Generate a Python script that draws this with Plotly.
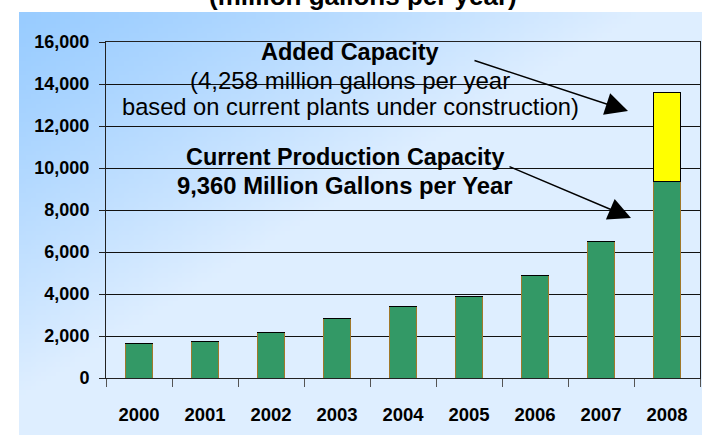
import base64, struct, zlib
import plotly.graph_objects as go

# ---- data ----
years = ["2000", "2001", "2002", "2003", "2004", "2005", "2006", "2007", "2008"]
current_capacity = [1640, 1750, 2160, 2810, 3410, 3900, 4870, 6490, 9360]
added_capacity = [0, 0, 0, 0, 0, 0, 0, 0, 4258]
y_ticks = [0, 2000, 4000, 6000, 8000, 10000, 12000, 14000, 16000]

# ---- background gradient image (built as PNG in memory) ----
def make_png(w, h, pixel):
    raw = b""
    for j in range(h):
        row = bytearray([0])
        for i in range(w):
            row.extend(pixel(i / (w - 1), j / (h - 1)))
        raw += bytes(row)
    def chunk(tag, data):
        c = struct.pack(">I", len(data)) + tag + data
        return c + struct.pack(">I", zlib.crc32(tag + data) & 0xffffffff)
    png = b"\x89PNG\r\n\x1a\n"
    png += chunk(b"IHDR", struct.pack(">IIBBBBB", w, h, 8, 2, 0, 0, 0))
    png += chunk(b"IDAT", zlib.compress(raw, 9))
    png += chunk(b"IEND", b"")
    return "data:image/png;base64," + base64.b64encode(png).decode()

c0 = (153, 204, 255)
c1 = (222, 238, 255)

def grad(u, v):
    t = min(1.0, (u * 1.1 + v * 1.1)) ** 1.2
    return [int(round(c0[k] + (c1[k] - c0[k]) * t)) for k in range(3)]

bg_src = make_png(140, 90, grad)

fig = go.Figure()
fig.add_trace(go.Bar(
    x=years, y=current_capacity, name="Current Production Capacity",
    marker=dict(color="#339966", line=dict(color="#A0782A", width=1)),
))
fig.add_trace(go.Bar(
    x=years, y=added_capacity, name="Added Capacity",
    marker=dict(color="#FFFF00", line=dict(color="#000000", width=1)),
))

fig.add_layout_image(dict(
    source=bg_src, xref="paper", yref="paper",
    x=-87 / 594, y=(378 - 12) / 336, sizex=(702 - 19) / 594, sizey=(435 - 12) / 336,
    xanchor="left", yanchor="top", sizing="stretch", layer="below",
))

font_family = "Liberation Sans, Arial, sans-serif"

def px_x(px):
    return (px - 106) / 594

def px_y(py):
    return (378 - py) / 336

ann = [
    dict(text="<b>(million gallons per year)</b>", x=px_x(363), y=px_y(13), yanchor="bottom", size=26),
    dict(text="<b>Added Capacity</b>", x=px_x(350), y=px_y(52), size=23.5),
    dict(text="(4,258 million gallons per year", x=px_x(350), y=px_y(80), size=24),
    dict(text="based on current plants under construction)", x=px_x(350), y=px_y(107), size=23.7),
    dict(text="<b>Current Production Capacity</b>", x=px_x(345), y=px_y(157), size=23.4),
    dict(text="<b>9,360 Million Gallons per Year</b>", x=px_x(345), y=px_y(185), size=23.8),
]
for a in ann:
    fig.add_annotation(xref="paper", yref="paper", showarrow=False, xanchor="center",
                       yanchor=a.get("yanchor", "middle"), x=a["x"], y=a["y"], text=a["text"],
                       font=dict(family=font_family, color="#000000", size=a["size"]))

for tip, start in [((628, 111), (473, 60)), ((631, 218), (508, 166))]:
    fig.add_annotation(xref="paper", yref="paper", x=px_x(tip[0]), y=px_y(tip[1]),
                       ax=start[0] - tip[0], ay=start[1] - tip[1], text="",
                       showarrow=True, arrowhead=2, arrowsize=3, arrowwidth=1.5,
                       arrowcolor="#000000")

fig.update_layout(
    width=702, height=435,
    margin=dict(l=106, r=2, t=42, b=57),
    barmode="stack", bargap=0.59,
    showlegend=False,
    paper_bgcolor="#FFFFFF", plot_bgcolor="rgba(0,0,0,0)",
    font=dict(family=font_family, color="#000000"),
)
fig.update_xaxes(
    type="category", tickson="boundaries", ticks="outside", ticklen=8, tickcolor="#555555",
    tickwidth=1, showline=True, linecolor="#222222", linewidth=1, mirror=True,
    showgrid=False, tickfont=dict(size=18.5, weight="bold", family=font_family),
    ticklabelstandoff=20,
)
fig.update_yaxes(
    range=[0, 16000], tickvals=y_ticks, tickformat=",d", ticks="outside", ticklen=6,
    tickcolor="#222222", showline=True, linecolor="#222222", linewidth=1, mirror=True,
    showgrid=True, gridcolor="#111111", gridwidth=1, zeroline=False,
    tickfont=dict(size=18, weight="bold", family=font_family), ticklabelstandoff=6,
)

fig.write_html("out.html", config={"displayModeBar": False},
               post_script="document.body.style.margin='0';document.body.style.overflow='hidden';")
